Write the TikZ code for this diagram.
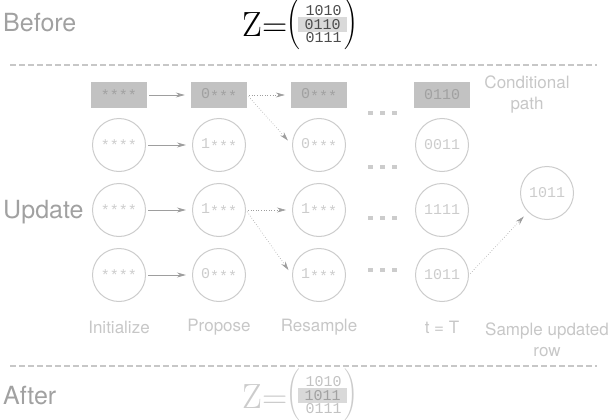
\documentclass[tikz,border=0pt]{standalone}
\usepackage{exscale}
\usepackage{fontspec}
\setsansfont{TeX Gyre Heros}
\setmonofont{Liberation Mono}
\usetikzlibrary{arrows.meta}

\definecolor{headgray}{gray}{0.63}
\definecolor{boxgray}{gray}{0.76}
\definecolor{ringgray}{gray}{0.8}
\definecolor{labelgray}{gray}{0.78}
\definecolor{arrowgray}{gray}{0.62}
\definecolor{markgray}{gray}{0.85}
\definecolor{digitgray}{gray}{0.3}

\newcommand{\wild}{\raisebox{-2.5pt}{*}}

\begin{document}
\begin{tikzpicture}[x=1pt,y=-1pt]
        \tikzstyle{every node}=[inner sep=0pt]
        \tikzstyle{heading}=[font=\sffamily\fontsize{25}{30}\selectfont, text=headgray, anchor=base west]
        \tikzstyle{cell}=[circle, draw=ringgray, line width=1pt, minimum size=53pt, text=ringgray, font=\ttfamily\fontsize{15}{18}\selectfont]
        \tikzstyle{condbox}=[rectangle, fill=boxgray, minimum width=56pt, minimum height=26pt, text=headgray, font=\ttfamily\fontsize{15}{18}\selectfont]
        \tikzstyle{caption}=[font=\sffamily\fontsize{17}{21}\selectfont, text=labelgray, align=center]
        \tikzstyle{move}=[draw=arrowgray, line width=0.8pt, -{Stealth[length=9pt,width=5pt]}, shorten <=2pt, shorten >=6pt]
        \tikzstyle{guess}=[move, line width=0.6pt, dotted]
        \tikzstyle{divider}=[draw=labelgray, line width=2pt, dash pattern=on 6pt off 3pt]
        \tikzstyle{zsym}=[font=\rmfamily\fontsize{35}{40}\selectfont, anchor=base]
        \tikzstyle{zrow}=[font=\ttfamily\fontsize{15}{15}\selectfont, minimum width=49pt, minimum height=15pt]
        \tikzstyle{paren}=[font=\fontsize{17}{20}\selectfont]
        \path[use as bounding box, clip] (0,0) rectangle (610,420);

        % before
        \node[heading] (before) at (3,32) {Before};
        \node[zsym] (zb) at (265,37) {Z=};
        \node[zrow, text=digitgray] (zb1) at (323.5,11) {1010};
        \node[zrow, text=digitgray, fill=markgray] (zb2) at (322.5,24.5) {0110};
        \node[zrow, text=digitgray] (zb3) at (323.5,37.5) {0111};
        \node[paren] (zbl) at (294,24) {$\left(\vrule height 20pt depth 20pt width 0pt\right.$};
        \node[paren] (zbr) at (351,24) {$\left.\vrule height 20pt depth 20pt width 0pt\right)$};
        \draw[divider] (10,65) -- (597,65);

        % update
        \node[heading] (update) at (3,218) {Update};
        \node[condbox] (c1) at (119,95) {\wild\wild\wild\wild};
        \node[condbox] (c2) at (219,95) {0\wild\wild\wild};
        \node[condbox] (c3) at (319,95) {0\wild\wild\wild};
        \node[condbox] (c4) at (442,95) {0110};
        \node[caption] (cond) at (527,95) {Conditional\\path};

        \node[cell] (i1) at (119,145) {\wild\wild\wild\wild};
        \node[cell] (i2) at (119,210) {\wild\wild\wild\wild};
        \node[cell] (i3) at (119,275) {\wild\wild\wild\wild};
        \node[cell] (p1) at (219,145) {1\wild\wild\wild};
        \node[cell] (p2) at (219,210) {1\wild\wild\wild};
        \node[cell] (p3) at (219,275) {0\wild\wild\wild};
        \node[cell] (r1) at (319,145) {0\wild\wild\wild};
        \node[cell] (r2) at (319,210) {1\wild\wild\wild};
        \node[cell] (r3) at (319,275) {1\wild\wild\wild};
        \node[cell] (t1) at (442,145) {0011};
        \node[cell] (t2) at (442,210) {1111};
        \node[cell] (t3) at (442,275) {1011};
        \node[cell] (s) at (547,193) {1011};

        \foreach \y in {113,167,218,270}
            \foreach \x in {370.5,382.5,394.5}
                \fill[ringgray] (\x-2.5,\y-2) rectangle (\x+2.5,\y+2);

        \draw[move] (c1) -- (c2);
        \draw[guess] (c2) -- (c3);
        \draw[guess] (c2.east) -- (r1.west);
        \foreach \k in {1,2,3}
            \draw[move] (i\k) -- (p\k);
        \draw[guess] (p2.east) -- (r2.west);
        \draw[guess] (p2.east) -- (r3.west);
        \draw[guess] (t3.east) -- (s.south west);

        \node[caption] (init) at (119,327) {Initialize};
        \node[caption] (prop) at (219,327) {Propose};
        \node[caption] (res) at (319,327) {Resample};
        \node[caption] (last) at (442,327) {t = T};
        \node[caption] (samp) at (547,340) {Sample updated\\row};
        \draw[divider] (10,366) -- (597,366);

        % after
        \node[heading] (after) at (3,404) {After};
        \node[zsym, text=ringgray] (za) at (265,408) {Z=};
        \node[zrow, text=boxgray] (za1) at (323.5,382) {1010};
        \node[zrow, text=headgray, fill=markgray] (za2) at (322.5,395.5) {1011};
        \node[zrow, text=boxgray] (za3) at (323.5,408.5) {0111};
        \node[paren, text=ringgray] (zal) at (294,395) {$\left(\vrule height 20pt depth 20pt width 0pt\right.$};
        \node[paren, text=ringgray] (zar) at (351,395) {$\left.\vrule height 20pt depth 20pt width 0pt\right)$};
\end{tikzpicture}
\end{document}
